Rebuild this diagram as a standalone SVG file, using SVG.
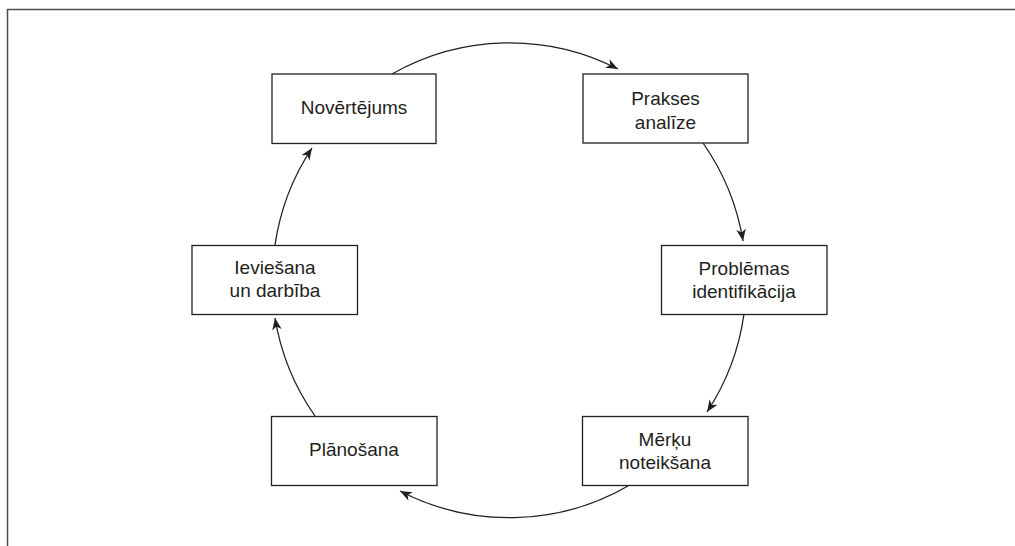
<svg xmlns="http://www.w3.org/2000/svg" width="1015" height="546" viewBox="0 0 1015 546">
  <style>
    .box { fill: #ffffff; stroke: #231f20; stroke-width: 1.3; }
    .lbl { font-family: "Liberation Sans", "Open Sans", sans-serif; font-size: 19px; fill: #231f20; text-anchor: middle; }
    .conn { fill: none; stroke: #231f20; stroke-width: 1.3; marker-end: url(#arr); }
    .frame { fill: none; stroke: #4d4d4d; stroke-width: 1.5; }
  </style>
  <defs>
    <marker id="arr" markerUnits="userSpaceOnUse" markerWidth="14" markerHeight="12" viewBox="-12 -6 14 12" refX="0" refY="0" orient="auto">
      <path d="M0,0 L-12,-4.8 L-8.5,0 L-12,4.8 Z" fill="#231f20"/>
    </marker>
  </defs>
  <rect width="1015" height="546" fill="#ffffff"/>
  <path class="frame" d="M7.5,546 L7.5,9.5 L1015,9.5"/>

  <g id="connectors">
    <path class="conn" d="M392,74 A237.5,237.5 0 0 1 618,69"/>
    <path class="conn" d="M703,143 A237.5,237.5 0 0 1 743,241"/>
    <path class="conn" d="M744,314 A237.5,237.5 0 0 1 707,412"/>
    <path class="conn" d="M628,486 A237.5,237.5 0 0 1 400,491"/>
    <path class="conn" d="M315,416 A237.5,237.5 0 0 1 275,318"/>
    <path class="conn" d="M275,245 A237.5,237.5 0 0 1 312,148"/>
  </g>

  <g id="novertejums">
    <rect class="box" x="272" y="74" width="164" height="69.5"/>
    <text class="lbl" x="354" y="114">Novērtējums</text>
  </g>
  <g id="prakses">
    <rect class="box" x="583" y="74" width="165" height="69"/>
    <text class="lbl" x="665.5" y="105">Prakses</text>
    <text class="lbl" x="665.5" y="129">analīze</text>
  </g>
  <g id="problemas">
    <rect class="box" x="661.5" y="245.5" width="165.5" height="69"/>
    <text class="lbl" x="744" y="275">Problēmas</text>
    <text class="lbl" x="744" y="298">identifikācija</text>
  </g>
  <g id="merku">
    <rect class="box" x="582.5" y="416.5" width="165.5" height="69"/>
    <text class="lbl" x="665" y="446">Mērķu</text>
    <text class="lbl" x="665" y="469">noteikšana</text>
  </g>
  <g id="planosana">
    <rect class="box" x="271.5" y="416.5" width="165.5" height="69"/>
    <text class="lbl" x="354" y="456">Plānošana</text>
  </g>
  <g id="ieviesana">
    <rect class="box" x="192" y="245.5" width="165.5" height="69"/>
    <text class="lbl" x="275" y="274">Ieviešana</text>
    <text class="lbl" x="275" y="297">un darbība</text>
  </g>
</svg>
